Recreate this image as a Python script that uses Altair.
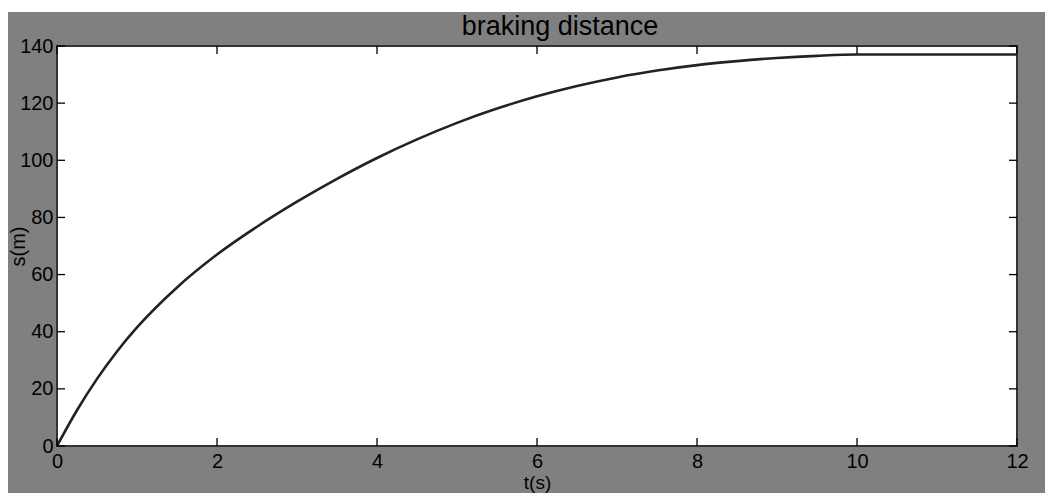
import altair as alt
import pandas as pd

# Braking distance over time
time_s = [0, 0.25, 0.5, 0.75, 1, 1.5, 2, 2.5, 3, 3.5, 4, 4.5, 5, 5.5, 6,
          6.5, 7, 7.5, 8, 8.5, 9, 9.5, 10, 10.5, 11, 11.5, 12]
dist_m = [0, 12.5, 23.5, 33.1, 41.5, 55.5, 67, 76.75, 85.5, 93.5, 100.8,
          107.3, 113.1, 118.1, 122.4, 126.0, 129.0, 131.4, 133.3, 134.7,
          135.8, 136.55, 137, 137, 137, 137, 137]

x_ticks = [0, 2, 4, 6, 8, 10, 12]
y_ticks = [0, 20, 40, 60, 80, 100, 120, 140]

W, H = 960, 400
FONT = "Liberation Sans"

curve = pd.DataFrame({"t": time_s, "s": dist_m})
xt = pd.DataFrame({"t": x_ticks})
yt = pd.DataFrame({"s": y_ticks})
one = alt.Data(values=[{"k": 0}])

x_scale = alt.Scale(domain=[0, 12], nice=False, zero=False)
y_scale = alt.Scale(domain=[0, 140], nice=False, zero=False)

x_axis = alt.Axis(values=x_ticks, format="d", ticks=False, tickSize=0, domain=False,
                  grid=False, labelFlush=False, labelPadding=5, labelFontSize=20,
                  labelFont=FONT, labelColor="black",
                  title="t(s)", titleFontSize=19, titleFont=FONT, titleFontWeight="normal",
                  titleColor="black", titleY=27, titleX=W / 2, titleBaseline="top")
y_axis = alt.Axis(values=y_ticks, format="d", ticks=False, tickSize=0, domain=False,
                  grid=False, labelFlush=False, labelPadding=4, labelFontSize=20,
                  labelFont=FONT, labelColor="black",
                  title="s(m)", titleFontSize=20, titleFont=FONT, titleFontWeight="normal",
                  titleColor="black", titleX=-29, titleY=H / 2, titleAngle=-90,
                  titleBaseline="bottom", titleAlign="center")

line = alt.Chart(curve).mark_line(color="#222222", strokeWidth=2.6,
                                  interpolate="monotone").encode(
    x=alt.X("t:Q", scale=x_scale, axis=x_axis),
    y=alt.Y("s:Q", scale=y_scale, axis=y_axis),
)

# inward ticks on all four sides
tick_style = dict(color="black", strokeWidth=1.3)
x_bottom = alt.Chart(xt).mark_rule(**tick_style).encode(
    x=alt.X("t:Q", scale=x_scale), y=alt.value(H), y2=alt.value(H - 8))
x_top = alt.Chart(xt).mark_rule(**tick_style).encode(
    x=alt.X("t:Q", scale=x_scale), y=alt.value(0), y2=alt.value(8))
y_left = alt.Chart(yt).mark_rule(**tick_style).encode(
    y=alt.Y("s:Q", scale=y_scale), x=alt.value(0), x2=alt.value(8))
y_right = alt.Chart(yt).mark_rule(**tick_style).encode(
    y=alt.Y("s:Q", scale=y_scale), x=alt.value(W), x2=alt.value(W - 8))

# white page margin around the grey figure
strip_top = alt.Chart(one).mark_rect(color="white").encode(
    x=alt.value(-57), x2=alt.value(988), y=alt.value(-46), y2=alt.value(-34))
strip_left = alt.Chart(one).mark_rect(color="white").encode(
    x=alt.value(-57), x2=alt.value(-49), y=alt.value(-46), y2=alt.value(447))

title = alt.Chart(one).mark_text(font=FONT, fontSize=27, color="black",
                                 align="center", baseline="alphabetic").encode(
    x=alt.value(503), y=alt.value(-11), text=alt.value("braking distance"))

chart = alt.layer(strip_top, strip_left, title, line,
                  x_bottom, x_top, y_left, y_right).properties(
    width=W, height=H,
    autosize=alt.AutoSizeParams(type="none"),
    padding={"left": 57, "top": 46, "right": 28, "bottom": 47},
    background="#808080",
).configure_view(fill="white", stroke="#333333", strokeWidth=2)

chart.save("out.html", embed_options={"renderer": "svg", "actions": False})
